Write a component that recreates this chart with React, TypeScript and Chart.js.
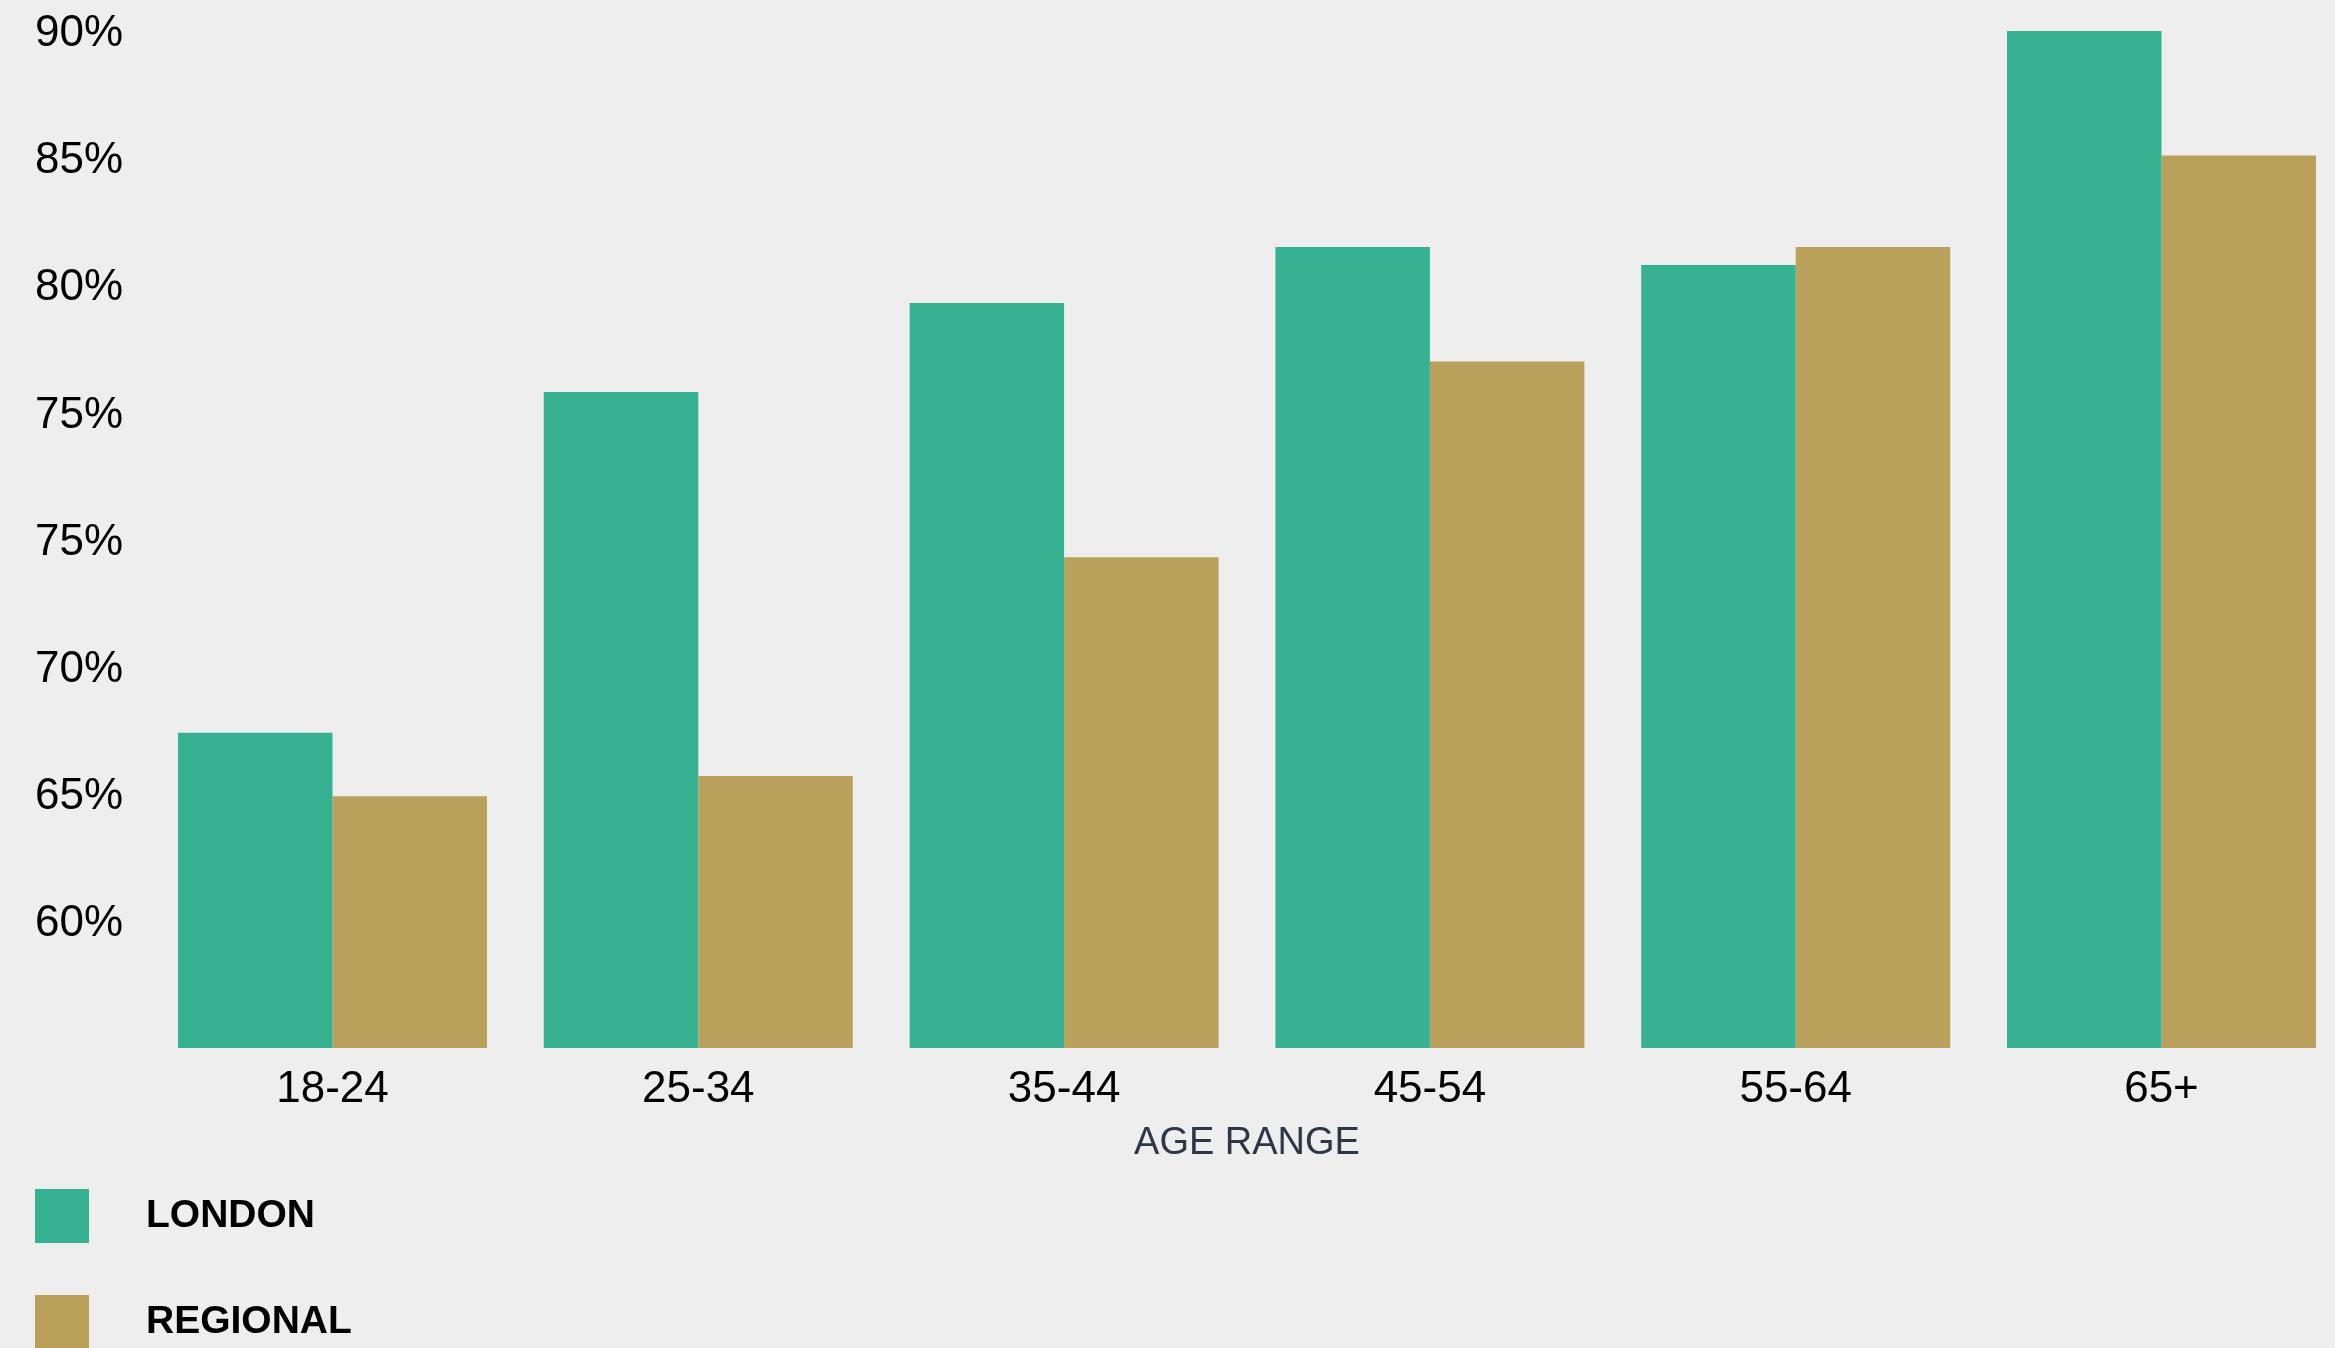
import React, { useEffect, useRef } from 'react';
import { Chart, registerables } from 'chart.js';

Chart.register(...registerables);

const CATEGORIES = ['18-24', '25-34', '35-44', '45-54', '55-64', '65+'];
const LONDON = [62.4, 75.8, 79.3, 81.5, 80.8, 90];
const REGIONAL = [59.9, 60.7, 69.3, 77.0, 81.5, 85.1];
const SERIES_NAMES = ['LONDON', 'REGIONAL'];
const Y_TICK_LABELS = ['', '60%', '65%', '70%', '75%', '75%', '80%', '85%', '90%'];
const X_TITLE = 'AGE RANGE';

const GREEN = '#36B293';
const GOLD = '#BAA15B';
const BG = '#EEEEEE';
const FONT = '"Liberation Sans", Arial, sans-serif';

const stackedLegend = {
  id: 'stackedLegend',
  afterDraw(chart: any) {
    const ctx = chart.ctx;
    const top = chart.scales.x.bottom + 11;
    ctx.save();
    chart.data.datasets.forEach((ds: any, i: number) => {
      const y = top + i * 106;
      ctx.fillStyle = ds.backgroundColor;
      ctx.fillRect(35, y, 54, 54);
      ctx.fillStyle = '#000000';
      ctx.font = `bold 39px ${FONT}`;
      ctx.textBaseline = 'middle';
      ctx.textAlign = 'left';
      ctx.fillText(ds.label, 146, y + 27);
    });
    ctx.restore();
  },
};

export default function App() {
  const canvasRef = useRef<HTMLCanvasElement | null>(null);

  useEffect(() => {
    document.body.style.margin = '0';
    document.body.style.background = BG;
    const canvas = canvasRef.current;
    if (!canvas) return;
    const chart = new Chart(canvas, {
      type: 'bar',
      data: {
        labels: CATEGORIES,
        datasets: [
          { label: SERIES_NAMES[0], data: LONDON, backgroundColor: GREEN, borderWidth: 0 },
          { label: SERIES_NAMES[1], data: REGIONAL, backgroundColor: GOLD, borderWidth: 0 },
        ],
      },
      options: {
        animation: false,
        responsive: true,
        maintainAspectRatio: false,
        layout: { padding: { top: 31, left: 0, right: 5.6, bottom: 170 } },
        datasets: {
          bar: { categoryPercentage: 0.8447, barPercentage: 1.0 },
        },
        plugins: {
          legend: { display: false },
          tooltip: { enabled: false },
        },
        scales: {
          x: {
            grid: { display: false, drawTicks: false },
            border: { display: false },
            ticks: {
              color: '#000000',
              font: { family: FONT, size: 44 },
              padding: 15.6,
              maxRotation: 0,
            },
            title: {
              display: true,
              text: X_TITLE,
              color: '#2D3748',
              font: { family: FONT, size: 38 },
              padding: { top: 0, bottom: 12 },
            },
            afterFit: (s: any) => {
              s.height = 130;
              s.paddingLeft = 0;
              s.paddingRight = 0;
            },
          },
          y: {
            min: 50,
            max: 90,
            grid: { display: false, drawTicks: false },
            border: { display: false },
            ticks: {
              stepSize: 5,
              color: '#000000',
              font: { family: FONT, size: 44 },
              padding: 26.6,
              labelOffset: 3,
              callback: (_v: any, i: number) => Y_TICK_LABELS[i] ?? '',
            },
            afterFit: (s: any) => {
              s.width = 149.6;
              s.paddingTop = 0;
              s.paddingBottom = 0;
            },
          },
        },
      },
      plugins: [stackedLegend],
    });
    return () => chart.destroy();
  }, []);

  return (
    <div
      style={{
        position: 'fixed',
        left: 0,
        top: 0,
        width: '100vw',
        height: '100vh',
        overflow: 'hidden',
        background: BG,
      }}
    >
      <div style={{ position: 'relative', width: '2350px', height: '1348px' }}>
        <canvas ref={canvasRef} />
      </div>
    </div>
  );
}
